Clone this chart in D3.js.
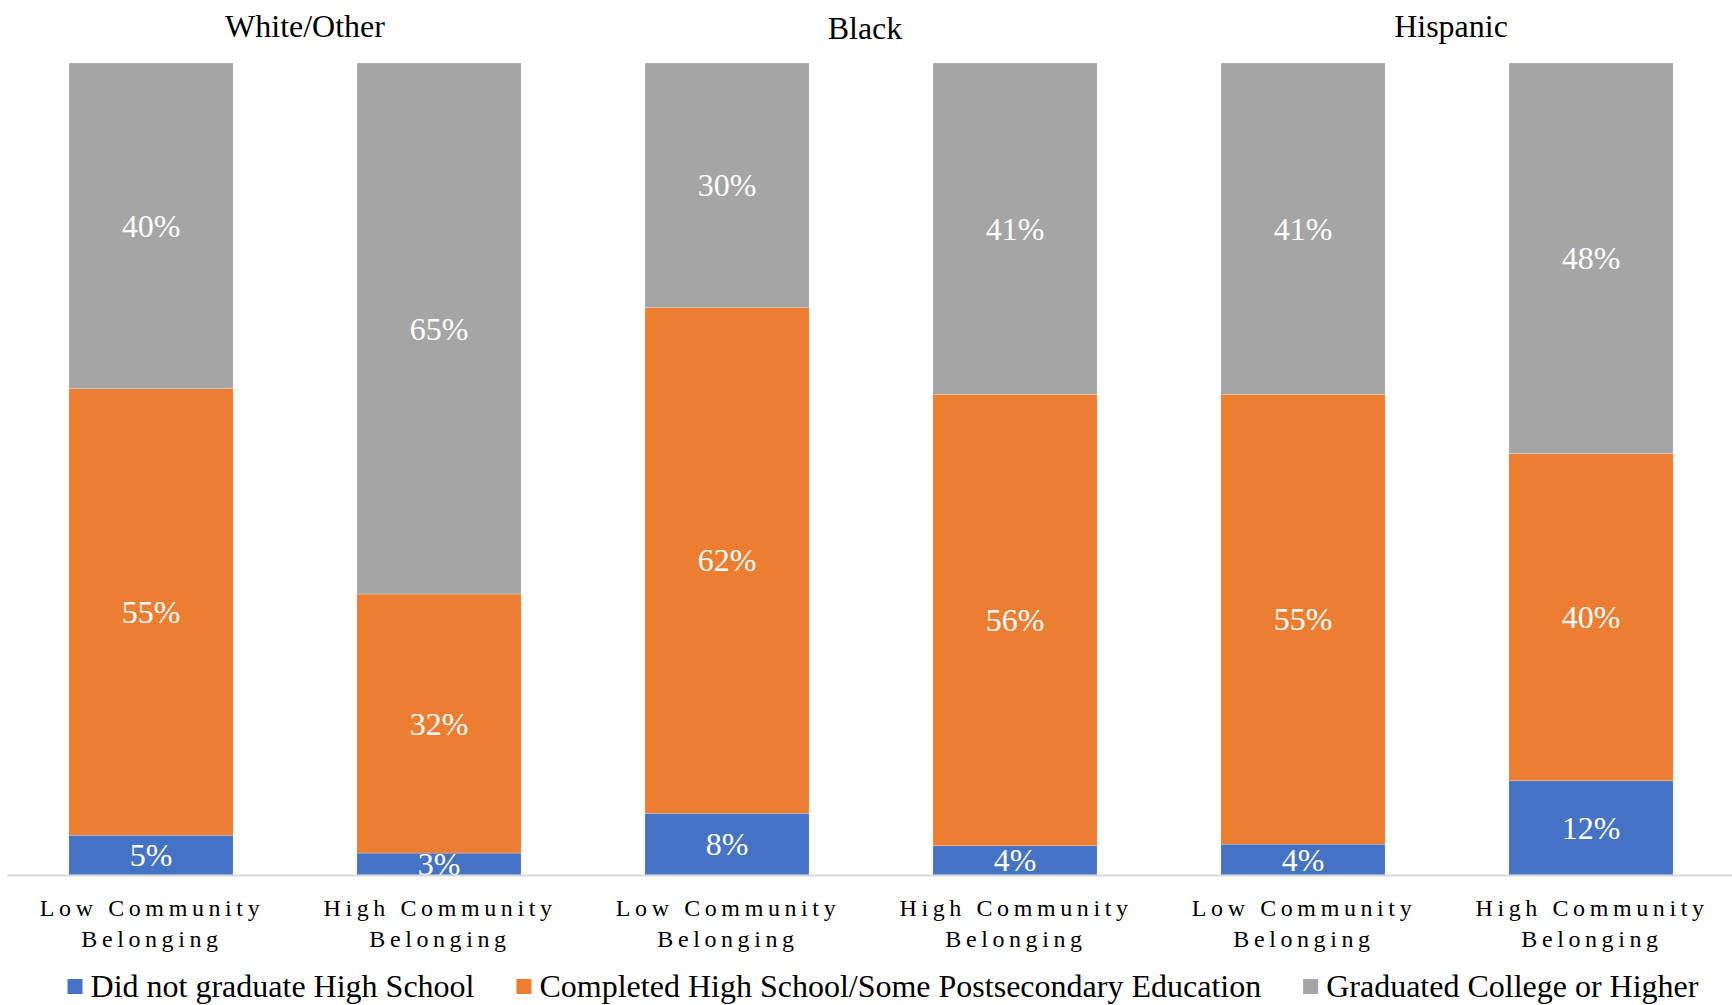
<!DOCTYPE html>
<html>
<head>
<meta charset="utf-8">
<script src="https://cdn.jsdelivr.net/npm/d3@7"></script>
<style>
  body { margin: 0; background: #fff; }
  text { font-family: 'Liberation Serif', 'Times New Roman', serif; }
</style>
</head>
<body>
<div id="chart"></div>
<script>
// group titles and bar categories (two bars per group)
var groups = ['White/Other', 'Black', 'Hispanic'];
var categories = ['Low Community Belonging', 'High Community Belonging',
                  'Low Community Belonging', 'High Community Belonging',
                  'Low Community Belonging', 'High Community Belonging'];

// series, in percent of each bar
var seriesNames = ['Did not graduate High School',
                   'Completed High School/Some Postsecondary Education',
                   'Graduated College or Higher'];
var noHighSchool = [4.9, 2.7, 7.6, 3.6, 3.8, 11.6];
var someCollege  = [55.0, 31.9, 62.3, 55.6, 55.4, 40.3];
var graduated    = [40.1, 65.4, 30.1, 40.8, 40.8, 48.1];

var colors = ['#4472C4', '#ED7D31', '#A5A5A5'];

var width = 1732, height = 1005;
// hand placed title nudges (the titles are text boxes, not quite centred)
var titleNudge = [[10, 37], [-6, 39], [4, 37]];

// build the table for d3.stack
var table = categories.map(function(c, i){
    return {idx: i, s0: noHighSchool[i], s1: someCollege[i], s2: graduated[i]};
});
var keys = ['s0', 's1', 's2'];
var stacked = d3.stack().keys(keys)(table);

var x = d3.scaleBand()
    .domain(d3.range(categories.length))
    .range([7, 1735])
    .paddingInner(0.43)
    .paddingOuter(0.215);

var y = d3.scaleLinear()
    .domain([0, 100])
    .range([875, 63]);

var svg = d3.select('#chart')
    .append('svg')
    .attr('width', width)
    .attr('height', height);

// bars
var layers = svg.selectAll('.layer')
    .data(stacked)
    .enter()
    .append('g')
    .attr('class', 'layer')
    .attr('fill', function(d, i){ return colors[i]; });

layers.selectAll('rect')
    .data(function(d){ return d; })
    .enter()
    .append('rect')
    .attr('x', function(d){ return x(d.data.idx); })
    .attr('y', function(d){ return y(d[1]); })
    .attr('width', x.bandwidth())
    .attr('height', function(d){ return y(d[0]) - y(d[1]); })
    .attr('stroke', '#ffffff')
    .attr('stroke-opacity', 0.35)
    .attr('stroke-width', 0.6);

// value labels, clipped at the plot floor
svg.append('clipPath')
    .attr('id', 'plotclip')
    .append('rect')
    .attr('x', 0).attr('y', 0)
    .attr('width', width).attr('height', y(0));

var labelG = svg.append('g').attr('clip-path', 'url(#plotclip)');
stacked.forEach(function(layer){
    labelG.selectAll(null)
        .data(layer)
        .enter()
        .append('text')
        .attr('x', function(d){ return x(d.data.idx) + x.bandwidth() / 2; })
        .attr('y', function(d){ return (y(d[0]) + y(d[1])) / 2; })
        .attr('text-anchor', 'middle')
        .attr('dominant-baseline', 'central')
        .attr('fill', '#ffffff')
        .style('font-size', '32px')
        .text(function(d){ return Math.round(d[1] - d[0]) + '%'; });
});

// x axis: light baseline, two-line letter-spaced category labels
var axis = svg.append('g')
    .attr('transform', 'translate(0,' + y(0) + ')')
    .call(d3.axisBottom(x).tickSize(0).tickSizeOuter(0).tickFormat(''));
axis.select('.domain').attr('stroke', '#d9d9d9').attr('stroke-width', 2);

axis.selectAll('.tick text').remove();
axis.selectAll('.tick').each(function(d){
    var name = categories[d];
    var cut = name.lastIndexOf(' ');
    var lines = [name.slice(0, cut), name.slice(cut + 1)];
    var t = d3.select(this).append('text')
        .attr('text-anchor', 'middle')
        .attr('fill', '#000')
        .style('font-size', '24px')
        .style('letter-spacing', '4.6px');
    lines.forEach(function(l, j){
        t.append('tspan')
            .attr('x', 1)
            .attr('y', 41 + j * 31)
            .text(l);
    });
});

// group titles over each pair of bars
groups.forEach(function(g, i){
    var cx = (x(i * 2) + x(i * 2 + 1) + x.bandwidth()) / 2;
    svg.append('text')
        .attr('x', cx + titleNudge[i][0])
        .attr('y', titleNudge[i][1])
        .attr('text-anchor', 'middle')
        .attr('fill', '#000')
        .style('font-size', '32px')
        .text(g);
});

// legend
var legend = svg.append('g').attr('transform', 'translate(0,986)');
var items = legend.selectAll('.item')
    .data(seriesNames)
    .enter()
    .append('g')
    .attr('class', 'item');
items.append('rect')
    .attr('width', 15).attr('height', 15)
    .attr('y', -7)
    .attr('fill', function(d, i){ return colors[i]; });
items.append('text')
    .attr('x', 23)
    .attr('y', 0)
    .attr('dominant-baseline', 'central')
    .attr('fill', '#000')
    .style('font-size', '32px')
    .text(function(d){ return d; });

var widths = [];
items.each(function(){
    widths.push(23 + d3.select(this).select('text').node().getComputedTextLength());
});
var total = d3.sum(widths) + 42 * (widths.length - 1);
var cursor = 883 - total / 2;
items.attr('transform', function(d, i){
    var tx = cursor;
    cursor += widths[i] + 42;
    return 'translate(' + tx + ',0)';
});
</script>
</body>
</html>
